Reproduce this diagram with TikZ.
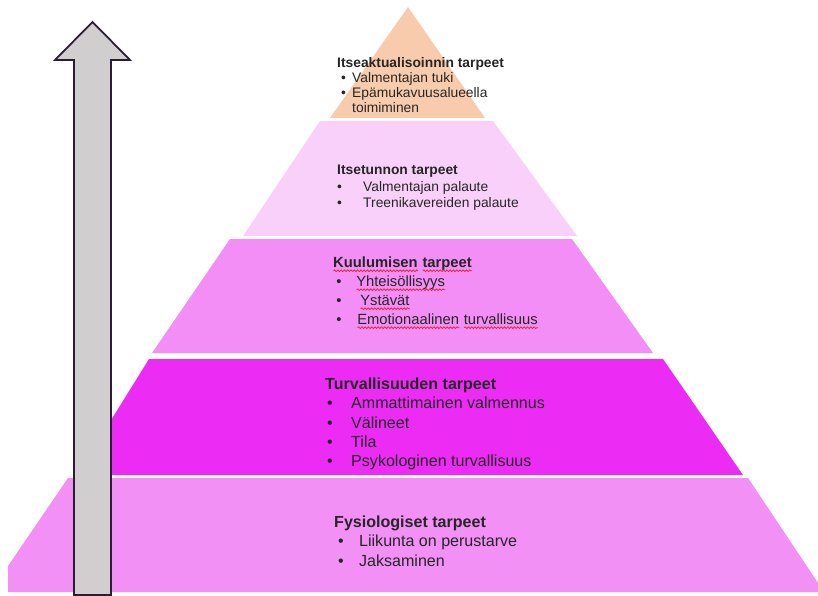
\documentclass[tikz,border=0pt]{standalone}
\usepackage{fontspec}
\setmainfont{Liberation Sans}
\usepackage{xcolor}
\usetikzlibrary{decorations.pathmorphing}

\definecolor{peach}{HTML}{F8CBAD}
\definecolor{palepink}{HTML}{F9D0F9}
\definecolor{midpink}{HTML}{F28EF5}
\definecolor{hotpink}{HTML}{EC2CF4}
\definecolor{basepink}{HTML}{F290F6}
\definecolor{arrowgray}{HTML}{D0CECE}
\definecolor{arrowline}{HTML}{2B1B33}
\definecolor{textgray}{HTML}{262626}
\definecolor{spellred}{HTML}{E8202A}

% bullet line: indent, bullet box, text
\newcommand{\bitem}[3]{\hspace*{#1}\makebox[#2][l]{\textbullet}#3}
% red spell-check wave under a word
\newsavebox{\wavebox}
\newcommand{\spellwave}[1]{\sbox{\wavebox}{#1}\rlap{\usebox{\wavebox}}%
  \tikz[baseline=0pt]\draw[spellred, line width=0.6pt, decorate,
    decoration={snake, amplitude=0.75pt, segment length=2.8pt}]
    (0pt,-2.9pt) -- (\wd\wavebox,-2.9pt);}

\tikzset{
  tiertext/.style={anchor=north west, inner sep=0pt, align=left, text=textgray},
  upbar/.style={fill=arrowgray, draw=arrowline, line width=1.5pt, line join=miter}
}

\begin{document}
\begin{tikzpicture}[x=0.03cm, y=-0.03cm]
  \useasboundingbox (0,0) rectangle (818,596);

  % Pyramid levels
  \fill[peach] (408,7) -- (485,118) -- (330,118) -- cycle;
  \fill[palepink] (320,121) -- (493,121) -- (577,236) -- (243,236) -- cycle;
  \fill[midpink] (230,239) -- (572,239) -- (653,353) -- (152,353) -- cycle;
  \fill[hotpink] (149,359) -- (663,359) -- (743,475) -- (77,475) -- cycle;
  \fill[basepink] (68,478) -- (748,478) -- (818,583) -- (818,592) -- (8,592) -- (8,566) -- cycle;

  % Self-actualisation
  \node[tiertext, font=\fontsize{11.8}{12.8}\selectfont] (selfact) at (337,57) {
    \textbf{Itseaktualisoinnin tarpeet}\\
    \bitem{3.4pt}{9.4pt}{Valmentajan tuki}\\
    \bitem{3.4pt}{9.4pt}{Epämukavuusalueella}\\
    \hspace*{12.8pt}toimiminen
  };

  % Esteem
  \node[tiertext, font=\fontsize{11.8}{14.1}\selectfont] (esteem) at (337,165) {
    \textbf{Itsetunnon tarpeet}\\
    \bitem{0pt}{22.2pt}{Valmentajan palaute}\\
    \bitem{0pt}{22.2pt}{Treenikavereiden palaute}
  };

  % Belonging
  \node[tiertext, font=\fontsize{12.6}{16.2}\selectfont] (belong) at (333,256.4) {
    \textbf{\spellwave{Kuulumisen} \spellwave{tarpeet}}\\
    \bitem{2.6pt}{17.1pt}{\spellwave{Yhteisöllisyys}}\\
    \bitem{2.6pt}{20.5pt}{\spellwave{Ystävät}}\\
    \bitem{2.6pt}{17.9pt}{\spellwave{Emotionaalinen} \spellwave{turvallisuus}}
  };

  % Safety
  \node[tiertext, font=\fontsize{13.7}{16.5}\selectfont] (safety) at (325,377.5) {
    \textbf{Turvallisuuden tarpeet}\\
    \bitem{1.7pt}{20.5pt}{Ammattimainen valmennus}\\
    \bitem{1.7pt}{20.5pt}{Välineet}\\
    \bitem{1.7pt}{20.5pt}{Tila}\\
    \bitem{1.7pt}{20.5pt}{Psykologinen turvallisuus}
  };

  % Physiological
  \node[tiertext, font=\fontsize{13.7}{16.5}\selectfont] (physio) at (334,515.5) {
    \textbf{Fysiologiset tarpeet}\\
    \bitem{3.4pt}{17.9pt}{Liikunta on perustarve}\\
    \bitem{3.4pt}{17.9pt}{Jaksaminen}
  };

  % Upward arrow
  \draw[upbar] (74,595) -- (74,60) -- (55,60) -- (92.5,22) -- (130,60)
    -- (111,60) -- (111,595) -- cycle;
\end{tikzpicture}
\end{document}
